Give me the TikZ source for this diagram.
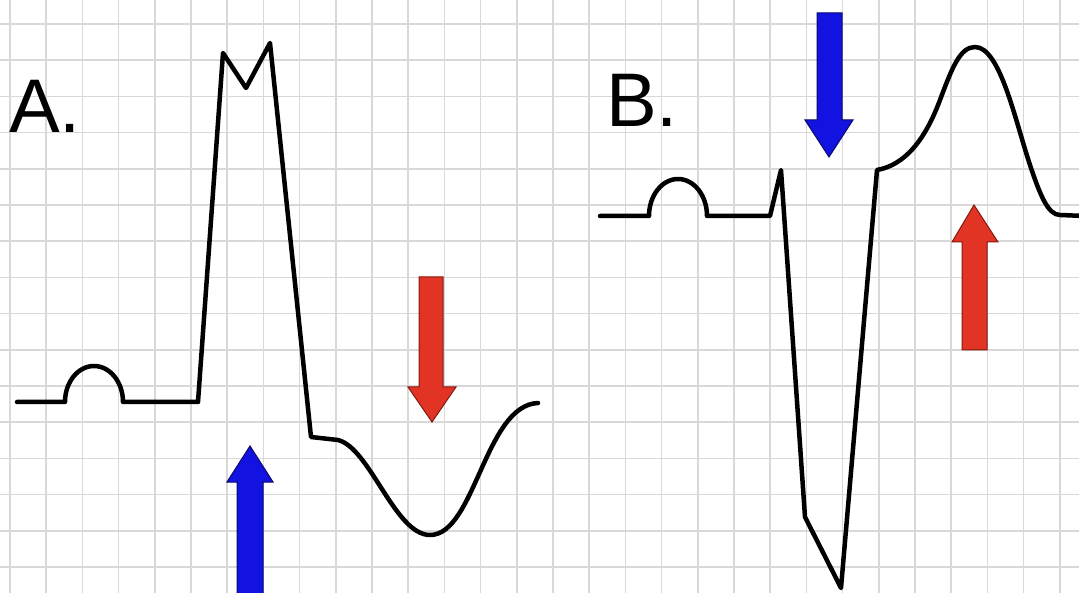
\documentclass[tikz,border=0pt]{standalone}
\usepackage{fontspec}
\setmainfont{Liberation Sans}
\definecolor{gridgray}{RGB}{216,216,216}
\definecolor{arrowblue}{RGB}{18,18,225}
\definecolor{arrowblueline}{RGB}{10,10,110}
\definecolor{arrowred}{RGB}{226,52,36}
\definecolor{arrowredline}{RGB}{130,25,15}
\begin{document}
\begin{tikzpicture}[x=1pt,y=-1pt,
  gridline/.style={draw=gridgray,line width=1.6pt},
  ecg/.style={draw=black,line width=4.5pt,line join=round,line cap=round},
  bluearrow/.style={fill=arrowblue,draw=arrowblueline,line width=1pt,line join=miter},
  redarrow/.style={fill=arrowred,draw=arrowredline,line width=1pt,line join=miter},
  lbl/.style={font=\fontsize{76}{80}\selectfont,inner sep=0pt,anchor=base west}]
\useasboundingbox (0,0) rectangle (1079,593);
\clip (0,0) rectangle (1079,593);
\fill[white] (0,0) rectangle (1079,593);
% grid
\foreach \i in {0,...,29} \draw[gridline] ({10+36.2*\i},0) -- ({10+36.2*\i},593);
\foreach \j in {0,...,15} \draw[gridline] (0,{24+36.2*\j}) -- (1079,{24+36.2*\j});
% labels
\node[lbl] (labA) at (9,133) {A.};
\node[lbl] (labB) at (606,127) {B.};
% ECG A
\draw[ecg] (17,402) -- (65,402) arc[start angle=180,end angle=360,x radius=29,y radius=36]
  -- (198,402) -- (223,53) -- (246,88) -- (270,43) -- (311,437) -- (338,440)
  .. controls (370,448) and (395,535) .. (430,535)
  .. controls (475,535) and (485,405) .. (538,403);
% ECG B
\draw[ecg] (600,216) -- (649,216) arc[start angle=180,end angle=360,x radius=29,y radius=37]
  -- (770,216) -- (781,170) -- (805,517) -- (841,588) -- (877,170)
  .. controls (905,165) and (925,140) .. (940,100)
  .. controls (952,68) and (960,47) .. (975,47)
  .. controls (1000,47) and (1015,120) .. (1030,165)
  .. controls (1040,195) and (1048,215) .. (1060,215) -- (1085,216);
% arrows
\draw[bluearrow] (237,600) -- (237,482) -- (227,482) -- (250,446) -- (273,482) -- (263,482) -- (263,600) -- cycle;
\draw[redarrow] (419,277) -- (443,277) -- (443,387) -- (456,387) -- (432,422) -- (408,387) -- (419,387) -- cycle;
\draw[bluearrow] (817,13) -- (842,13) -- (842,120) -- (853,120) -- (829,157) -- (805,120) -- (817,120) -- cycle;
\draw[redarrow] (962,350) -- (962,242) -- (952,242) -- (974,205) -- (998,242) -- (987,242) -- (987,350) -- cycle;
\end{tikzpicture}
\end{document}
